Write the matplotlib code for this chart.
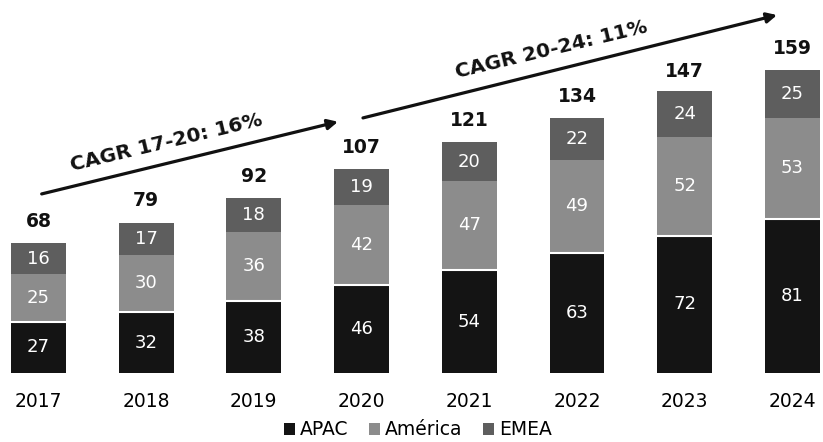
import numpy as np
import matplotlib.pyplot as plt

years = ["2017", "2018", "2019", "2020", "2021", "2022", "2023", "2024"]
apac = [27, 32, 38, 46, 54, 63, 72, 81]
america = [25, 30, 36, 42, 47, 49, 52, 53]
emea = [16, 17, 18, 19, 20, 22, 24, 25]
totals = [68, 79, 92, 107, 121, 134, 147, 159]

plt.rcParams['font.family'] = ['DejaVu Sans']

fig = plt.figure(figsize=(8.23, 4.42), dpi=100)
ax = fig.add_axes([0, 69 / 442, 1, 373 / 442])

x = np.arange(len(years))
w = 0.51
series = [(apac, "#141414", "APAC"), (america, "#8c8c8c", "América"), (emea, "#5e5e5e", "EMEA")]
bottom = np.zeros(len(years))
for vals, col, name in series:
    vals = np.array(vals)
    ax.bar(x, vals, w, bottom=bottom, color=col, linewidth=0, label=name)
    for xi, b, v in zip(x, bottom, vals):
        ax.text(xi, b + v / 2, str(v), ha="center", va="center", color="white", fontsize=13)
    bottom = bottom + vals

# white separator on top of APAC
ax.hlines(apac, x - w / 2, x + w / 2, color="white", lw=1.5)

for xi, t in zip(x, totals):
    ax.annotate(str(t), (xi, t), xytext=(0, 15.5), textcoords="offset points",
                ha="center", va="center", fontsize=13.5, fontweight="bold", color="#111111")

# CAGR arrows
arrow = dict(arrowstyle="-|>", color="#111111", lw=2.3, mutation_scale=15, shrinkA=0, shrinkB=0)
ax.annotate("", xy=(2.781, 131.9), xytext=(0.03, 94.0), arrowprops=arrow)
ax.annotate("", xy=(6.857, 187.9), xytext=(3.013, 133.9), arrowprops=arrow)
ax.text(1.184, 121.0, "CAGR 17-20: 16%", rotation=13.5, ha="center", va="center",
        fontsize=14.5, fontweight="bold", color="#111111", rotation_mode="anchor")
ax.text(4.759, 169.8, "CAGR 20-24: 11%", rotation=13.5, ha="center", va="center",
        fontsize=14.5, fontweight="bold", color="#111111", rotation_mode="anchor")

ax.set_xlim(-0.357, 7.284)
ax.set_ylim(0, 195.8)
ax.set_xticks(x)
ax.set_xticklabels(years, fontsize=13.5)
ax.tick_params(axis="x", length=0, pad=14)
ax.set_yticks([])
for s in ax.spines.values():
    s.set_visible(False)

ax.legend(loc="center", bbox_to_anchor=(0.508, -0.152), ncol=3, frameon=False,
          fontsize=13.5, handlelength=0.6, handleheight=0.6, handletextpad=0.25,
          columnspacing=1.1, borderpad=0)

fig.savefig("out.png", dpi=100)
